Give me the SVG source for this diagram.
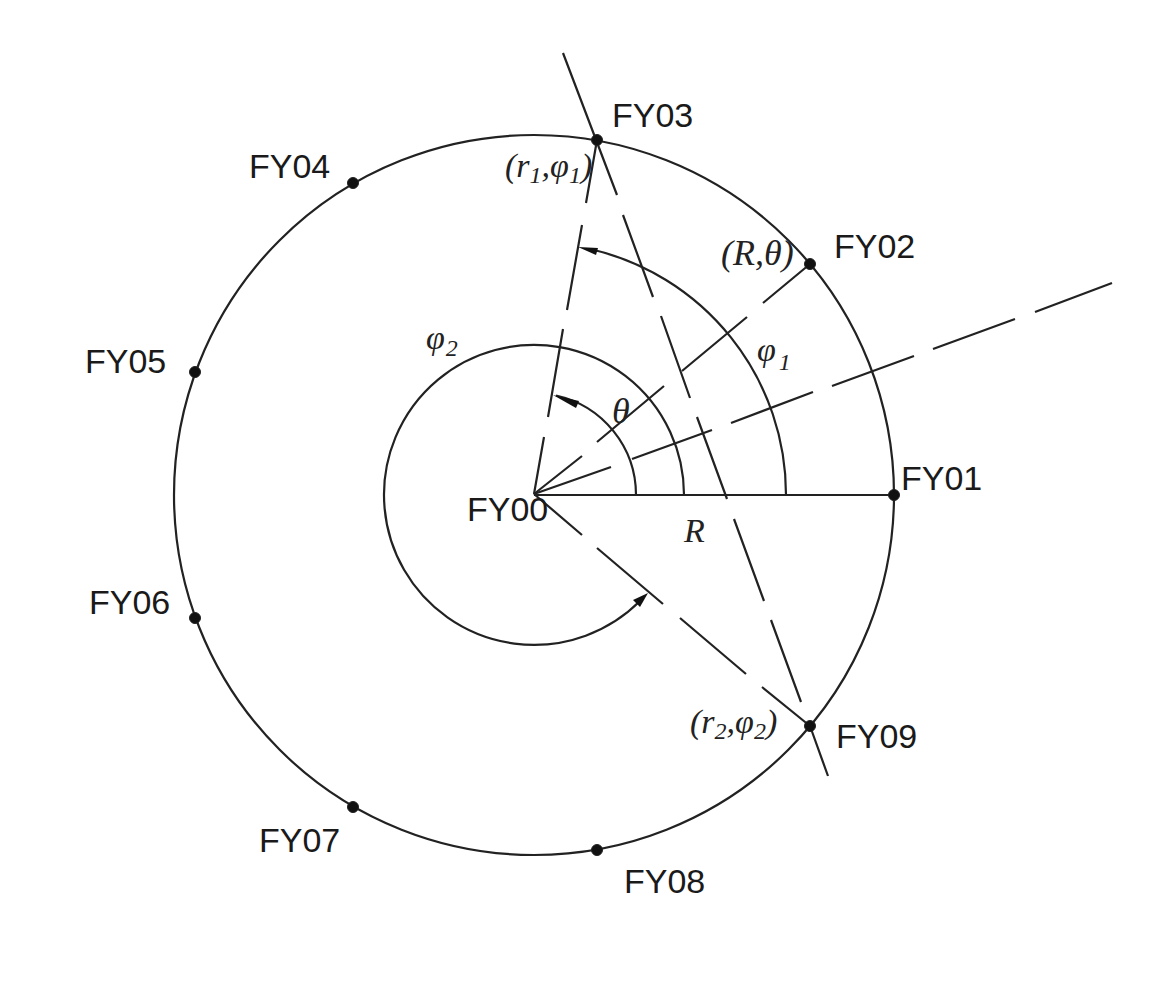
<svg xmlns="http://www.w3.org/2000/svg" width="1164" height="982" viewBox="0 0 1164 982">
<style>
.l{fill:none;stroke:#222;stroke-width:2.2}
.d{fill:#111;stroke:#222;stroke-width:1}
.a{fill:#111}
.t{font-family:"Liberation Sans",Arial,sans-serif;font-size:34px;fill:#1a1a1a}
.i{font-family:"Liberation Serif","Times New Roman",serif;font-style:italic;font-size:34px;fill:#222}
.b{font-size:36px}
.s{font-size:24px}
</style>
<rect width="1164" height="982" fill="#fff"/>
<g id="connectors">
<circle class="l" cx="534" cy="495" r="360"/>
<path class="l" d="M534 495H894"/>
<path class="l" d="M636 495A102 102 0 0 0 556 395.500"/>
<path class="l" d="M684 495A150 150 0 1 0 640 601"/>
<path class="l" d="M786 495A252 252 0 0 0 590 249"/>
<path class="l" d="M534 494L544 437M548 417L563 329M567 310L582 225M586 203L597 140"/>
<path class="l" d="M534 494L582 456M597 442L664 386M682 371L747 317M763 303L810 264"/>
<path class="l" d="M534 494L611 467M632 459L712 430M731 423L813 392M832 386L914 356M933 349L1015 319M1035 312L1112 283"/>
<path class="l" d="M563 53L617 195M623 215L653 297M661 316L690 398M697 417L727 499M734 519L764 601M771 620L801 702M810 726L828 776"/>
<path class="l" d="M534 494L582 535M597 548L663 604M680 618L746 674M762 687L810 726"/>
<polygon class="a" points="578,247 598,248 596,255"/>
<polygon class="a" points="553,395 579,401 576,408"/>
<polygon class="a" points="648,593 640,607 633,600"/>
</g>
<g id="FY00"><text class="t" x="467" y="521">FY00</text></g>
<g id="FY01"><circle class="d" cx="894" cy="495" r="5.500"/><text class="t" x="901" y="490">FY01</text></g>
<g id="FY02"><circle class="d" cx="810" cy="264" r="5.500"/><text class="t" x="834" y="258">FY02</text></g>
<g id="FY03"><circle class="d" cx="597" cy="140" r="5.500"/><text class="t" x="612" y="127">FY03</text></g>
<g id="FY04"><circle class="d" cx="353" cy="183" r="5.500"/><text class="t" x="249" y="178">FY04</text></g>
<g id="FY05"><circle class="d" cx="195" cy="372" r="5.500"/><text class="t" x="85" y="373">FY05</text></g>
<g id="FY06"><circle class="d" cx="195" cy="618" r="5.500"/><text class="t" x="89" y="614">FY06</text></g>
<g id="FY07"><circle class="d" cx="353" cy="807" r="5.500"/><text class="t" x="259" y="852">FY07</text></g>
<g id="FY08"><circle class="d" cx="597" cy="850" r="5.500"/><text class="t" x="624" y="893">FY08</text></g>
<g id="FY09"><circle class="d" cx="810" cy="726" r="5.500"/><text class="t" x="836" y="748">FY09</text></g>
<g id="labels">
<text class="i" x="505" y="177">(r<tspan class="s" dy="6">1</tspan><tspan dy="-6">,φ</tspan><tspan class="s" dy="6">1</tspan><tspan dy="-6">)</tspan></text>
<text class="i b" x="721" y="265">(R,θ)</text>
<text class="i b" x="612" y="423">θ</text>
<text class="i" x="757" y="361">φ<tspan class="s" dx="3" dy="9">1</tspan></text>
<text class="i" x="426" y="349">φ<tspan class="s" dx="1" dy="7">2</tspan></text>
<text class="i" x="684" y="542">R</text>
<text class="i" x="690" y="733">(r<tspan class="s" dy="6">2</tspan><tspan dy="-6">,φ</tspan><tspan class="s" dy="6">2</tspan><tspan dy="-6">)</tspan></text>
</g>
</svg>
